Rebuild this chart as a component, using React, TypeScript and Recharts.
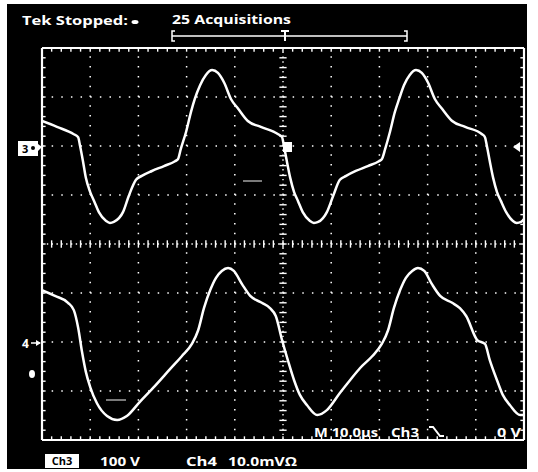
import React from 'react';
import { LineChart, Line, XAxis, YAxis, ReferenceLine } from 'recharts';

// ---- data (time in µs, Ch3 in volts, Ch4 in mV) ----
const ch3Time = [0, 3.1, 6.6, 7.5, 7.9, 8.5, 9.1, 10.0, 10.8, 11.8, 13.3, 14.1, 14.9, 16.8, 18.0, 19.5, 20.7, 22.8, 25.3, 27.6, 28.2, 28.8, 29.9, 30.9, 31.7, 32.8, 34.0, 35.3, 36.5, 37.8, 39.2, 40.7, 42.7, 45.4, 49.0, 49.8, 50.2,
  50.8, 51.5, 52.3, 53.1, 54.1, 55.6, 56.4, 57.3, 59.1, 60.4, 61.8, 63.1, 65.1, 67.6, 69.9, 70.5, 71.2, 72.2, 73.2, 74.1, 75.1, 76.3, 77.6, 78.8, 80.1, 81.5, 83.0, 85.1, 87.8, 91.3, 91.9, 92.3,
  92.9, 93.6, 94.4, 95.2, 96.3, 97.7, 98.5, 99.4, 100];
const ch3Volts = [51, 39, 24, 18, 0, -31, -65, -94, -112, -135, -153, -157, -155, -135, -102, -69, -61, -51, -41, -31, -27, -6, 29, 69, 96, 124, 145, 155, 149, 129, 96, 76, 51, 39, 24, 18, 0,
  -31, -65, -94, -112, -135, -153, -157, -155, -135, -102, -69, -61, -51, -41, -31, -27, -6, 29, 69, 96, 124, 145, 155, 149, 129, 96, 76, 51, 39, 24, 18, 0,
  -31, -65, -94, -112, -135, -153, -157, -155, -149];

const ch4Time = [0, 2.7, 5.4, 6.6, 7.5, 8.3, 9.1, 10.0, 11.4, 13.5, 15.6, 17.6, 20.3, 23.4, 26.6, 29.0, 31.1, 32.4, 33.6, 34.9, 36.1, 37.3, 38.6, 39.8, 41.5, 43.2, 45.6, 47.3, 48.5, 49.8,
  51.0, 52.3, 53.5, 55.0, 57.1, 59.1, 61.8, 63.9, 66.0, 68.5, 70.5, 71.8, 73.0, 74.3, 75.5, 76.8, 78.0, 79.3, 80.9, 82.6, 85.1, 86.7, 88.0, 90.3, 91.9,
  92.9, 94.4, 95.6, 97.1, 99.2, 100];
const ch4MilliVolts = [10.6, 9.4, 8.0, 6.5, 2.9, -2.0, -6.1, -9.2, -12.5, -15.1, -15.9, -15.1, -12.2, -9.0, -5.5, -2.9, -0.4, 2.4, 6.9, 10.6, 13.1, 14.5, 15.1, 14.5, 11.8, 9.4, 8.0, 6.9, 5.3, 0.4,
  -3.7, -7.8, -10.8, -12.9, -14.9, -13.9, -10.4, -7.8, -5.3, -2.9, -0.4, 2.4, 6.9, 10.6, 13.1, 14.5, 15.1, 14.5, 11.8, 9.4, 8.0, 6.9, 5.3, 0.4, -0.4,
  -3.7, -7.8, -10.8, -12.9, -14.9, -14.9];

// scope settings
const CH3_VOLTS_PER_DIV = 100;
const CH3_POSITION = 2;
const CH4_MV_PER_DIV = 10;
const CH4_POSITION = -2;
const TIME_PER_DIV = 10;
const H_DIVS = 10;
const V_DIVS = 8;

const ch3Data = ch3Time.map((t, i) => ({ t, y: CH3_POSITION + ch3Volts[i] / CH3_VOLTS_PER_DIV }));
const ch4Data = ch4Time.map((t, i) => ({ t, y: CH4_POSITION + ch4MilliVolts[i] / CH4_MV_PER_DIV }));

const W = 538;
const H = 472;
const MARGIN = { top: 48, right: 14, bottom: 32, left: 42 };
const TMAX = TIME_PER_DIV * H_DIVS;
const YMAX = V_DIVS / 2;

const FONT = '"Open Sans", "DejaVu Sans", sans-serif';

function graticule() {
  const els: React.ReactNode[] = [];
  const minorX = TIME_PER_DIV / 5;
  const minorY = 0.2;
  const tickX = 0.75;
  const tickY = 0.075;
  for (let i = 1; i < H_DIVS; i++) {
    if (i === H_DIVS / 2) continue;
    els.push(<ReferenceLine key={'gx' + i} x={i * TIME_PER_DIV} stroke="#fff" strokeWidth={1.5} strokeDasharray="1.5 8.3" />);
  }
  for (let j = -YMAX + 1; j < YMAX; j++) {
    if (j === 0) continue;
    els.push(<ReferenceLine key={'gy' + j} y={j} stroke="#fff" strokeWidth={1.5} strokeDasharray="1.5 8.14" />);
  }
  els.push(<ReferenceLine key="cx" x={TMAX / 2} stroke="#fff" strokeWidth={1.4} strokeDasharray="1.4 3.5" />);
  els.push(<ReferenceLine key="cy" y={0} stroke="#fff" strokeWidth={1.4} strokeDasharray="1.4 3.42" />);
  for (let k = 1; k < H_DIVS * 5; k++) {
    const x = k * minorX;
    els.push(<ReferenceLine key={'ctx' + k} segment={[{ x, y: -tickY }, { x, y: tickY }]} stroke="#fff" strokeWidth={1.4} />);
    els.push(<ReferenceLine key={'ttx' + k} segment={[{ x, y: YMAX }, { x, y: YMAX - tickY }]} stroke="#fff" strokeWidth={1.4} />);
    els.push(<ReferenceLine key={'btx' + k} segment={[{ x, y: -YMAX }, { x, y: -YMAX + tickY }]} stroke="#fff" strokeWidth={1.4} />);
  }
  for (let k = 1; k < V_DIVS * 5; k++) {
    const y = -YMAX + k * minorY;
    els.push(<ReferenceLine key={'cty' + k} segment={[{ x: TMAX / 2 - tickX, y }, { x: TMAX / 2 + tickX, y }]} stroke="#fff" strokeWidth={1.4} />);
    els.push(<ReferenceLine key={'lty' + k} segment={[{ x: 0, y }, { x: tickX, y }]} stroke="#fff" strokeWidth={1.4} />);
    els.push(<ReferenceLine key={'rty' + k} segment={[{ x: TMAX, y }, { x: TMAX - tickX, y }]} stroke="#fff" strokeWidth={1.4} />);
  }
  els.push(<ReferenceLine key="b1" x={0} stroke="#fff" strokeWidth={2.2} />);
  els.push(<ReferenceLine key="b2" x={TMAX} stroke="#fff" strokeWidth={2.2} />);
  els.push(<ReferenceLine key="b3" y={YMAX} stroke="#fff" strokeWidth={2.2} />);
  els.push(<ReferenceLine key="b4" y={-YMAX} stroke="#fff" strokeWidth={2.2} />);
  return els;
}

export default function App() {
  return (
    <div style={{ position: 'absolute', left: 0, top: 0, width: W, height: H, background: '#fff', overflow: 'hidden' }}>
      <div style={{ position: 'absolute', left: 7, top: 4, width: 520, height: 465, background: '#000' }} />
      <div style={{ position: 'absolute', left: 0, top: 0 }}>
        <LineChart width={W} height={H} margin={MARGIN}>
          <XAxis type="number" dataKey="t" domain={[0, TMAX]} hide allowDataOverflow />
          <YAxis type="number" domain={[-YMAX, YMAX]} hide allowDataOverflow />
          {graticule()}
          <Line data={ch3Data} dataKey="y" type="monotone" stroke="#fff" strokeWidth={2.5} dot={false} isAnimationActive={false} />
          <Line data={ch4Data} dataKey="y" type="monotone" stroke="#fff" strokeWidth={2.5} dot={false} isAnimationActive={false} />
        </LineChart>
      </div>
      <svg width={W} height={H} style={{ position: 'absolute', left: 0, top: 0 }}>
        <g fill="#fff" fontFamily={FONT} fontWeight={700}>
          <text x={22} y={25} fontSize={13} textLength={106} lengthAdjust="spacingAndGlyphs">Tek Stopped:</text>
          <ellipse cx={135} cy={22} rx={3.5} ry={2} />
          <text x={172} y={24} fontSize={13} textLength={119} lengthAdjust="spacingAndGlyphs">25 Acquisitions</text>
          <text x={314} y={437} fontSize={12} textLength={64} lengthAdjust="spacingAndGlyphs">M 10.0µs</text>
          <text x={391} y={437} fontSize={12} textLength={28} lengthAdjust="spacingAndGlyphs">Ch3</text>
          <text x={497} y={437} fontSize={12} textLength={24} lengthAdjust="spacingAndGlyphs">0 V</text>
          <text x={100} y={466} fontSize={12} textLength={40} lengthAdjust="spacingAndGlyphs">100 V</text>
          <text x={186} y={466} fontSize={12} textLength={31} lengthAdjust="spacingAndGlyphs">Ch4</text>
          <text x={228} y={466} fontSize={12} textLength={69} lengthAdjust="spacingAndGlyphs">10.0mVΩ</text>
          <text x={22} y={348} fontSize={12}>4</text>
        </g>
        <path d="M429 427 L433 427 L440 436 L444 436" stroke="#fff" strokeWidth={2} fill="none" />
        <g stroke="#fff" strokeWidth={1.5} fill="none">
          <path d="M175 31 L172 31 L172 41 L175 41" />
          <path d="M404 31 L407 31 L407 41 L404 41" />
          <path d="M172 36 L407 36" />
          <path d="M281 31 L289 31 M285 31 L285 41" strokeWidth={2} />
        </g>
        {/* faint persistence artifacts */}
        <path d="M243 181 L262 181" stroke="#ccc" strokeWidth={1.2} />
        <path d="M106 400 L126 400" stroke="#ccc" strokeWidth={1.2} />
        <rect x={45} y={454} width={34} height={14} fill="#fff" />
        <text x={62} y={465} fontSize={11} fontFamily={FONT} fontWeight={700} fill="#000" textAnchor="middle">Ch3</text>
        <rect x={18} y={141} width={20} height={15} fill="#fff" />
        <path d="M38 144 L42 147 L38 151 Z" fill="#fff" />
        <text x={22} y={153} fontSize={11} fontFamily={FONT} fontWeight={700} fill="#000">3</text>
        <circle cx={33} cy={148} r={2} fill="#000" />
        <path d="M31 343 L40 343" stroke="#fff" strokeWidth={1.5} />
        <path d="M36 340 L41 343 L36 346 Z" fill="#fff" />
        <ellipse cx={32} cy={374} rx={3} ry={4} fill="#fff" />
        <path d="M513 147 L520 142 L520 152 Z" fill="#fff" />
        <rect x={283} y={142} width={9} height={10} fill="#fff" />
      </svg>
    </div>
  );
}
